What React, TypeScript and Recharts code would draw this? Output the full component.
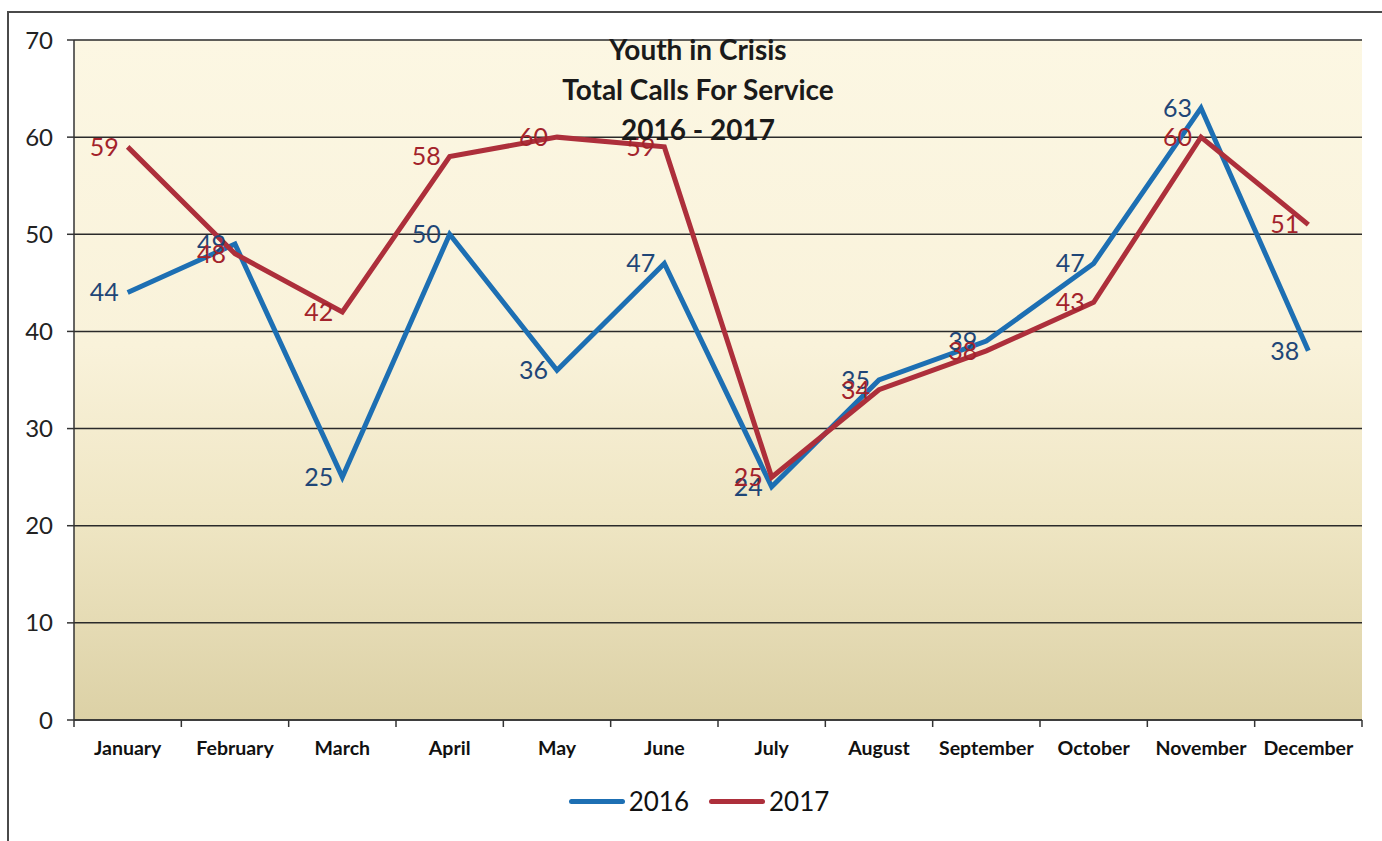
import { CartesianGrid, LabelList, Legend, Line, LineChart, XAxis, YAxis } from "recharts";

const months = [
	"January",
	"February",
	"March",
	"April",
	"May",
	"June",
	"July",
	"August",
	"September",
	"October",
	"November",
	"December",
];
const calls2016 = [44, 49, 25, 50, 36, 47, 24, 35, 39, 47, 63, 38];
const calls2017 = [59, 48, 42, 58, 60, 59, 25, 34, 38, 43, 60, 51];
const yTicks = [0, 10, 20, 30, 40, 50, 60, 70];
const titleLines = ["Youth in Crisis", "Total Calls For Service", "2016 - 2017"];
const seriesInfo = [
	{ key: "y2016", name: "2016", stroke: "#1d6fb3", label: "#1f4677" },
	{ key: "y2017", name: "2017", stroke: "#ad2f3b", label: "#a3232b" },
];

const data = months.map((month, i) => ({
	month,
	y2016: calls2016[i],
	y2017: calls2017[i],
}));

const W = 1382;
const H = 841;
const margin = { top: 40, right: 20, left: 0, bottom: 81 };
const yAxisWidth = 74;
const bandWidth = (W - margin.left - margin.right - yAxisWidth) / months.length;
const font = "Lato, 'Open Sans', sans-serif";

function MonthTick(props: any) {
	const { x, y, payload, index } = props;
	const half = bandWidth / 2;
	return (
		<g>
			<line x1={x - half} x2={x - half} y1={y} y2={y + 7} stroke="#333" strokeWidth={1.5} />
			{index === months.length - 1 && (
				<line x1={x + half} x2={x + half} y1={y} y2={y + 7} stroke="#333" strokeWidth={1.5} />
			)}
			<text
				x={x}
				y={y + 35}
				textAnchor="middle"
				fontFamily={font}
				fontWeight={700}
				fontSize={19.5}
				fill="#111"
			>
				{payload.value}
			</text>
		</g>
	);
}

function LegendContent() {
	return (
		<div
			style={{
				display: "flex",
				justifyContent: "center",
				alignItems: "center",
				gap: 20,
				fontFamily: font,
				fontSize: 26,
				color: "#111",
				paddingLeft: 16,
			}}
		>
			{seriesInfo.map((s) => (
				<div key={s.key} style={{ display: "flex", alignItems: "center" }}>
					<div
						style={{
							width: 56,
							height: 5,
							borderRadius: 3,
							background: s.stroke,
							marginRight: 4,
						}}
					/>
					<span>{s.name}</span>
				</div>
			))}
		</div>
	);
}

export default function App() {
	return (
		<div
			style={{
				position: "absolute",
				left: 0,
				top: 0,
				width: W,
				height: H,
				overflow: "hidden",
				background: "#fff",
			}}
		>
			<div
				style={{
					position: "absolute",
					left: 7,
					top: 11,
					width: 1420,
					height: 900,
					border: "2px solid #4a4a4a",
				}}
			/>
			<LineChart width={W} height={H} data={data} margin={margin}>
				<defs>
					<linearGradient id="plotBg" x1="0" y1="0" x2="0" y2="1">
						<stop offset="0%" stopColor="#fcf7e3" />
						<stop offset="45%" stopColor="#f9f2da" />
						<stop offset="70%" stopColor="#efe6c4" />
						<stop offset="100%" stopColor="#dcd1a6" />
					</linearGradient>
				</defs>
				<CartesianGrid
					vertical={false}
					stroke="#2a2a2a"
					strokeWidth={1.5}
					fill="url(#plotBg)"
					fillOpacity={1}
				/>
				<XAxis
					dataKey="month"
					interval={0}
					height={40}
					padding={{ left: bandWidth / 2, right: bandWidth / 2 }}
					tickLine={false}
					tickSize={0}
					tickMargin={0}
					axisLine={{ stroke: "#333", strokeWidth: 1.5 }}
					tick={<MonthTick />}
				/>
				<YAxis
					width={yAxisWidth}
					domain={[0, 70]}
					ticks={yTicks}
					interval={0}
					tickSize={7}
					tickMargin={14}
					axisLine={{ stroke: "#333", strokeWidth: 1.5 }}
					tickLine={{ stroke: "#333", strokeWidth: 1.5 }}
					tick={{ fontFamily: font, fontSize: 24, fill: "#222" }}
				/>
				<Legend
					layout="horizontal"
					verticalAlign="middle"
					align="center"
					wrapperStyle={{ top: 785, left: 0, width: W }}
					content={<LegendContent />}
				/>
				{seriesInfo.map((s) => (
					<Line
						key={s.key}
						type="linear"
						dataKey={s.key}
						name={s.name}
						stroke={s.stroke}
						strokeWidth={5}
						dot={false}
						activeDot={false}
						isAnimationActive={false}
					>
						<LabelList
							dataKey={s.key}
							position="left"
							offset={9}
							fill={s.label}
							fontSize={25}
							fontFamily={font}
						/>
					</Line>
				))}
			</LineChart>
			<div
				style={{
					position: "absolute",
					left: 448,
					top: 29,
					width: 500,
					textAlign: "center",
					fontFamily: font,
					fontWeight: 700,
					fontSize: 28,
					lineHeight: "40px",
					color: "#1a1a1a",
				}}
			>
				{titleLines.map((line) => (
					<div key={line}>{line}</div>
				))}
			</div>
		</div>
	);
}
